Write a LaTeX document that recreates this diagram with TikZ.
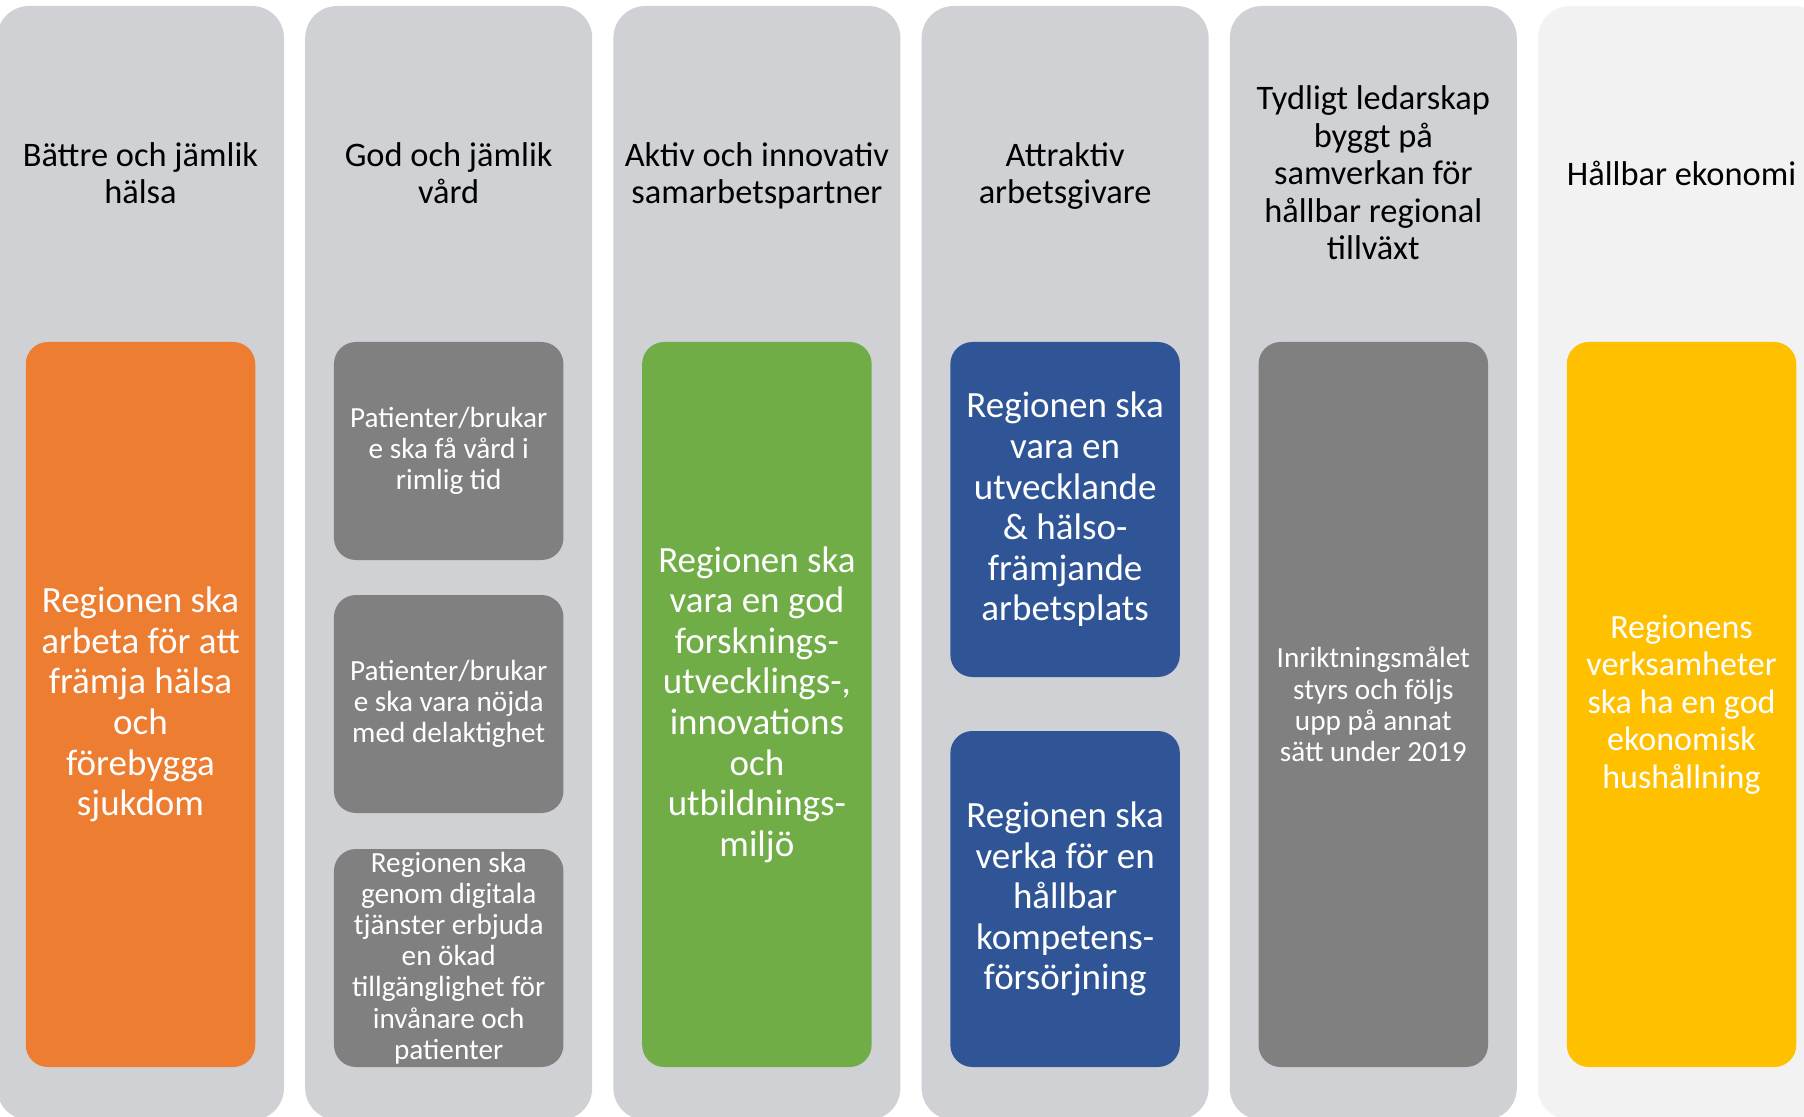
\documentclass[tikz,border=0pt]{standalone}
\usepackage{fontspec}
\setmainfont{Carlito}
\definecolor{colgray}{RGB}{208,209,213}
\definecolor{collight}{RGB}{242,242,242}
\definecolor{boxorange}{RGB}{237,125,49}
\definecolor{boxgray}{RGB}{128,128,128}
\definecolor{boxgreen}{RGB}{112,173,71}
\definecolor{boxblue}{RGB}{47,85,151}
\definecolor{boxyellow}{RGB}{255,192,0}
\begin{document}
\begin{tikzpicture}[x=0.5pt, y=-0.5pt, every node/.style={inner sep=0pt, align=center},
			col/.style={fill=colgray, rounded corners=16pt, minimum width=143.5pt, minimum height=557pt},
			box/.style={rounded corners=11pt, minimum width=114.75pt, text=white},
			title/.style={font=\fontsize{17.2}{18.75}\selectfont},
			big/.style={font=\fontsize{18.5}{20.3}\selectfont},
			small/.style={font=\fontsize{14.6}{15.6}\selectfont}]
			\useasboundingbox (0,0) rectangle (1804,1117);
			\fill[white] (0,0) rectangle (1804,1117);

			\node[col] (C1) at (140.5,563) {};
			\node[col] (C2) at (448.7,563) {};
			\node[col] (C3) at (756.9,563) {};
			\node[col] (C4) at (1065.1,563) {};
			\node[col] (C5) at (1373.3,563) {};
			\node[col, fill=collight] (C6) at (1681.5,563) {};

			\node[title] (T1) at (140.5,173) {Bättre och jämlik\\hälsa};
			\node[title] (T2) at (448.7,173) {God och jämlik\\vård};
			\node[title] (T3) at (756.9,176) {Aktiv och innovativ\\samarbetspartner};
			\node[title] (T4) at (1065.1,176) {Attraktiv\\arbetsgivare};
			\node[title] (T5) at (1373.3,173) {Tydligt ledarskap\\byggt på\\samverkan för\\hållbar regional\\tillväxt};
			\node[title] (T6) at (1681.5,173) {Hållbar ekonomi};

			\node[box, big, fill=boxorange, minimum height=362.5pt] (M1) at (140.5,704.5)
				{Regionen ska\\arbeta för att\\främja hälsa\\och\\förebygga\\sjukdom};

			\node[box, small, fill=boxgray, minimum height=109pt] (M2) at (448.7,451)
				{Patienter/brukar\\e ska få vård i\\rimlig tid};
			\node[box, small, fill=boxgray, minimum height=109pt] (M22) at (448.7,704)
				{Patienter/brukar\\e ska vara nöjda\\med delaktighet};
			\node[box, small, fill=boxgray, minimum height=109pt] (M23) at (448.7,958)
				{Regionen ska\\genom digitala\\tjänster erbjuda\\en ökad\\tillgänglighet för\\invånare och\\patienter};

			\node[box, big, fill=boxgreen, minimum height=362.5pt] (M3) at (756.9,704.5)
				{Regionen ska\\vara en god\\forsknings-\\utvecklings-,\\innovations\\och\\utbildnings-\\miljö};

			\node[box, big, fill=boxblue, minimum height=167.5pt] (M4) at (1065.1,509.5)
				{Regionen ska\\vara en\\utvecklande\\\& hälso-\\främjande\\arbetsplats};
			\node[box, big, fill=boxblue, minimum height=168pt] (M42) at (1065.1,899)
				{Regionen ska\\verka för en\\hållbar\\kompetens-\\försörjning};

			\node[box, small, fill=boxgray, minimum height=362.5pt] (M5) at (1373.3,704.5)
				{Inriktningsmålet\\styrs och följs\\upp på annat\\sätt under 2019};

			\node[box, fill=boxyellow, minimum height=362.5pt, font=\fontsize{17}{18.7}\selectfont] (M6) at (1681.5,704.5)
				{Regionens\\verksamheter\\ska ha en god\\ekonomisk\\hushållning};
		\end{tikzpicture}
\end{document}
